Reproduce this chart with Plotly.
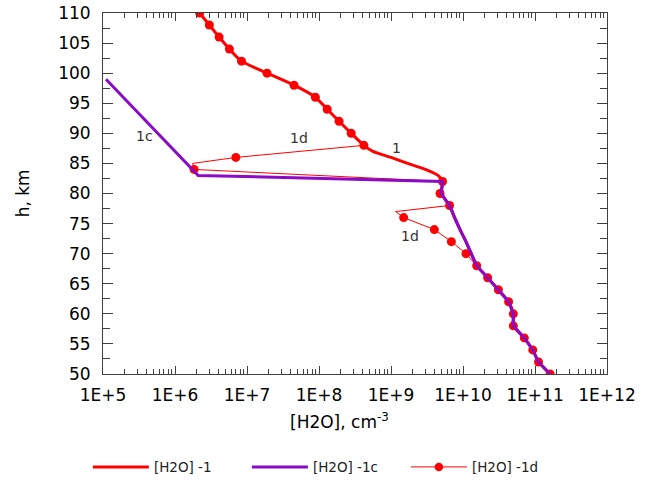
import math
import plotly.graph_objects as go

# ---- data ----
h_1 = [110, 108, 106, 104, 102, 100, 98, 96, 94, 92, 90, 88, 87, 86, 85, 84, 83, 82,
       80, 78, 76, 74, 72, 70, 68, 66, 64, 62, 60, 58, 56, 54, 52, 50]
h2o_1 = [2.2e6, 3.0e6, 4.1e6, 5.7e6, 8.4e6, 1.9e7, 4.5e7, 8.9e7, 1.3e8, 1.9e8, 2.8e8, 4.2e8,
         5.6e8, 1.0e9, 1.7e9, 3.0e9, 4.5e9, 5.2e9,
         5.0e9, 6.5e9, 7.6e9, 9.1e9, 1.1e10, 1.3e10, 1.55e10, 2.2e10, 3.1e10, 4.3e10,
         5.0e10, 5.0e10, 7.1e10, 9.3e10, 1.12e11, 1.62e11]

h_1c = [99, 83, 82, 80, 78, 76, 74, 72, 70, 68, 66, 64, 62, 60, 58, 56, 54, 52, 50]
h2o_1c = [1.1e5, 2.1e6, 5.2e9, 5.0e9, 6.5e9, 7.6e9, 9.1e9, 1.1e10, 1.3e10, 1.55e10,
          2.2e10, 3.1e10, 4.3e10, 5.0e10, 5.0e10, 7.1e10, 9.3e10, 1.12e11, 1.62e11]

h_1d = [110, 108, 106, 104, 102, 100, 98, 96, 94, 92, 90, 88, 86, 85, 84, 82, 80, 78,
        77, 76, 74, 72, 70, 68, 66, 64, 62, 60, 58, 56, 54, 52, 50]
h2o_1d = [2.2e6, 3.0e6, 4.1e6, 5.7e6, 8.4e6, 1.9e7, 4.5e7, 8.9e7, 1.3e8, 1.9e8, 2.8e8, 4.2e8,
          7.0e6, 1.76e6, 1.84e6, 5.2e9, 4.8e9, 6.5e9,
          1.16e9, 1.5e9, 4.0e9, 6.9e9, 1.1e10, 1.55e10, 2.2e10, 3.1e10, 4.3e10,
          5.0e10, 5.0e10, 7.1e10, 9.3e10, 1.12e11, 1.62e11]
marker_1d = [9, 9, 9, 9, 9, 9, 9, 9, 9, 9, 9, 9, 9, 0, 9, 9, 9, 9,
             0, 9, 9, 9, 9, 9, 9, 9, 9, 9, 9, 9, 9, 9, 9]

x_tickvals = [1e5, 1e6, 1e7, 1e8, 1e9, 1e10, 1e11, 1e12]
x_ticktext = ["1E+5", "1E+6", "1E+7", "1E+8", "1E+9", "1E+10", "1E+11", "1E+12"]

series_names = ["[H2O] -1", "[H2O] -1c", "[H2O] -1d"]
curve_labels = ["1c", "1d", "1", "1d"]
curve_label_x = [3.8e5, 5.3e7, 1.2e9, 1.86e9]
curve_label_h = [89.5, 89.2, 87.6, 72.9]

RED = "#FF0000"
PURPLE = "#8A0AC8"
FONT = "DejaVu Sans"

fig = go.Figure()
fig.add_trace(go.Scatter(x=h2o_1, y=h_1, mode="lines", name=series_names[0],
                         line=dict(color=RED, width=3, shape="spline", smoothing=0.6),
                         legendrank=1))
fig.add_trace(go.Scatter(x=h2o_1d, y=h_1d, mode="lines+markers", name=series_names[2],
                         line=dict(color=RED, width=1),
                         marker=dict(color=RED, size=marker_1d, opacity=1, line=dict(width=0)),
                         legendrank=3))
fig.add_trace(go.Scatter(x=h2o_1c, y=h_1c, mode="lines", name=series_names[1],
                         line=dict(color=PURPLE, width=3), legendrank=2))

for t, xv, yv in zip(curve_labels, curve_label_x, curve_label_h):
    fig.add_annotation(x=math.log10(xv), y=yv, xref="x", yref="y", text=t, showarrow=False,
                       font=dict(family=FONT, size=14, color="#333333"))

fig.add_annotation(x=0.47, y=-0.13, xref="paper", yref="paper", xanchor="center",
                   yanchor="middle", text="[H2O], cm<sup>-3</sup>", showarrow=False,
                   font=dict(family=FONT, size=17, color="#000000"))
fig.add_annotation(x=-0.159, y=0.5, xref="paper", yref="paper", xanchor="center",
                   yanchor="middle", text="h, km", textangle=-90, showarrow=False,
                   font=dict(family=FONT, size=17, color="#000000"))

axis_col = "#404040"
fig.update_layout(
    width=648, height=489,
    margin=dict(l=103, r=41, t=13, b=115, autoexpand=False),
    paper_bgcolor="white", plot_bgcolor="white",
    font=dict(family=FONT, size=17, color="#000000"),
    showlegend=True,
    legend=dict(orientation="h", x=-0.030, y=-0.258, xanchor="left", yanchor="middle",
                itemwidth=56, entrywidth=88,
                font=dict(family=FONT, size=13.5, color="#222222")),
    xaxis=dict(type="log", range=[5, 12], tickmode="array", tickvals=x_tickvals,
               ticktext=x_ticktext, ticks="inside", ticklen=8, tickcolor=axis_col,
               ticklabelstandoff=6,
               showline=True, linecolor=axis_col, linewidth=1, mirror="allticks",
               showgrid=False, zeroline=False,
               minor=dict(ticks="inside", ticklen=5, tickcolor=axis_col, dtick="D1",
                          showgrid=False)),
    yaxis=dict(range=[50, 110], dtick=5, tick0=50, ticks="inside", ticklen=10,
               tickcolor=axis_col, showline=True, linecolor=axis_col, linewidth=1,
               ticklabelstandoff=8,
               mirror="allticks", showgrid=False, zeroline=False,
               minor=dict(ticks="inside", ticklen=7, tickcolor=axis_col, dtick=2.5,
                          showgrid=False)),
)

fig.write_html("out.html")
